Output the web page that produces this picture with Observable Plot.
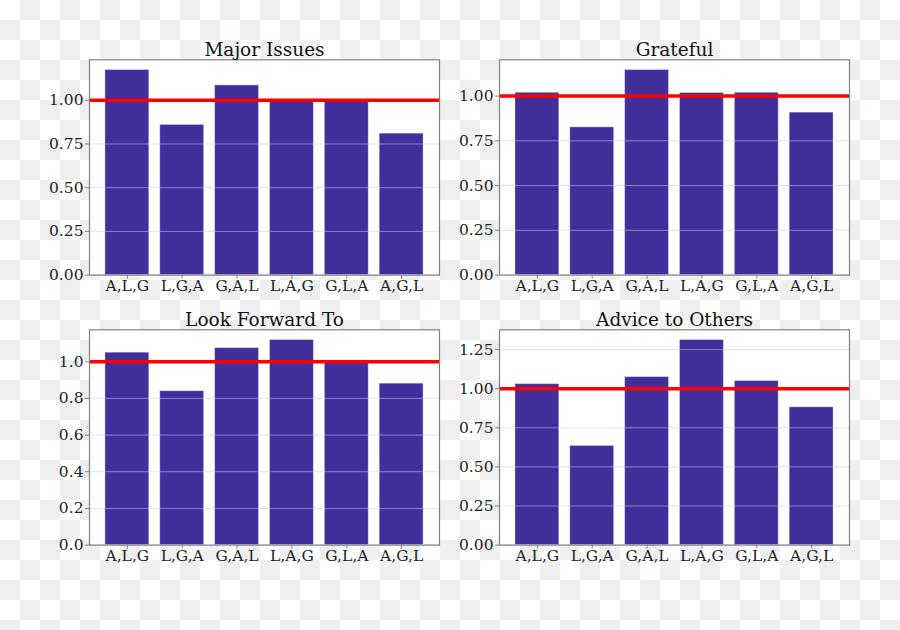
<!DOCTYPE html>
<html>
<head>
<meta charset="utf-8">
<script src="https://cdn.jsdelivr.net/npm/d3@7"></script>
<script src="https://cdn.jsdelivr.net/npm/@observablehq/plot@0.6"></script>
<style>
  html, body { margin: 0; padding: 0; }
  #wrap {
    position: relative; width: 900px; height: 630px; overflow: hidden;
    background: repeating-conic-gradient(#efefef 0 25%, #ffffff 0 50%) 0 0 / 40px 40px;
  }
  #wrap > div { position: absolute; }
</style>
</head>
<body>
<div id="wrap"></div>
<script>
const orders = ["A,L,G", "L,G,A", "G,A,L", "L,A,G", "G,L,A", "A,G,L"];

const majorIssues = [1.173, 0.859, 1.085, 0.995, 0.995, 0.809];
const grateful    = [1.018, 0.825, 1.145, 1.017, 1.018, 0.907];
const lookForward = [1.049, 0.839, 1.074, 1.118, 0.993, 0.880];
const advice      = [1.029, 0.634, 1.074, 1.311, 1.049, 0.881];

const ticks2 = [0, 0.25, 0.5, 0.75, 1.0];
const ticks1 = [0, 0.2, 0.4, 0.6, 0.8, 1.0];
const ticks3 = [0, 0.25, 0.5, 0.75, 1.0, 1.25];

const titles = ["Major Issues", "Grateful", "Look Forward To", "Advice to Others"];
const reference = [1];

const panels = [
  {title: titles[0], values: majorIssues, ticks: ticks2, fmt: ".2f", left: 0, top: 0, mt: 59.3},
  {title: titles[1], values: grateful, ticks: ticks2, fmt: ".2f", left: 410, top: 0, mt: 59.3},
  {title: titles[2], values: lookForward, ticks: ticks1, fmt: ".1f", left: 0, top: 300, mt: 29.3},
  {title: titles[3], values: advice, ticks: ticks3, fmt: ".2f", left: 410, top: 300, mt: 29.3}
];

const wrap = document.getElementById("wrap");
const font = "'DejaVu Serif', serif";

for (const p of panels) {
  const data = orders.map((o, i) => ({order: o, value: p.values[i]}));
  const ymax = d3.max(p.values) * 1.05;
  const frameH = 215.3;
  const mb = 40;
  const chart = Plot.plot({
    width: 450,
    height: p.mt + frameH + mb,
    marginLeft: 89,
    marginRight: 11,
    marginTop: p.mt,
    marginBottom: mb,
    style: {background: "transparent", fontFamily: font, fontSize: "15.5px", color: "#222"},
    x: {domain: orders, paddingInner: 0.2, paddingOuter: 0.29, round: false, label: null},
    y: {domain: [0, ymax], label: null},
    marks: [
      Plot.frame({fill: "white", stroke: null}),
      Plot.barY(data, {x: "order", y: "value", fill: "#412f9c", stroke: "#ffffff", strokeOpacity: 0.35, strokeWidth: 1, inset: 0}),
      Plot.gridY(p.ticks, {stroke: "#c8c8f0", strokeOpacity: 0.55, strokeWidth: 1}),
      Plot.ruleY(reference, {stroke: "#ff0000", strokeWidth: 3.5}),
      Plot.frame({stroke: "#808080", strokeWidth: 1.2}),
      Plot.axisY(p.ticks, {tickSize: 4, tickPadding: 2, tickFormat: d3.format(p.fmt), fontSize: 15.5, stroke: "#808080", fill: "#222", label: null}),
      Plot.axisX({tickSize: 4, tickPadding: 1, fontSize: 15.5, stroke: "#808080", fill: "#222", label: null}),
      Plot.text([p.title], {frameAnchor: "top", dy: -4, lineAnchor: "bottom", fontSize: 18.5, fill: "#111"})
    ]
  });
  const holder = document.createElement("div");
  holder.style.left = p.left + "px";
  holder.style.top = p.top + "px";
  holder.appendChild(chart);
  wrap.appendChild(holder);
}
</script>
</body>
</html>
